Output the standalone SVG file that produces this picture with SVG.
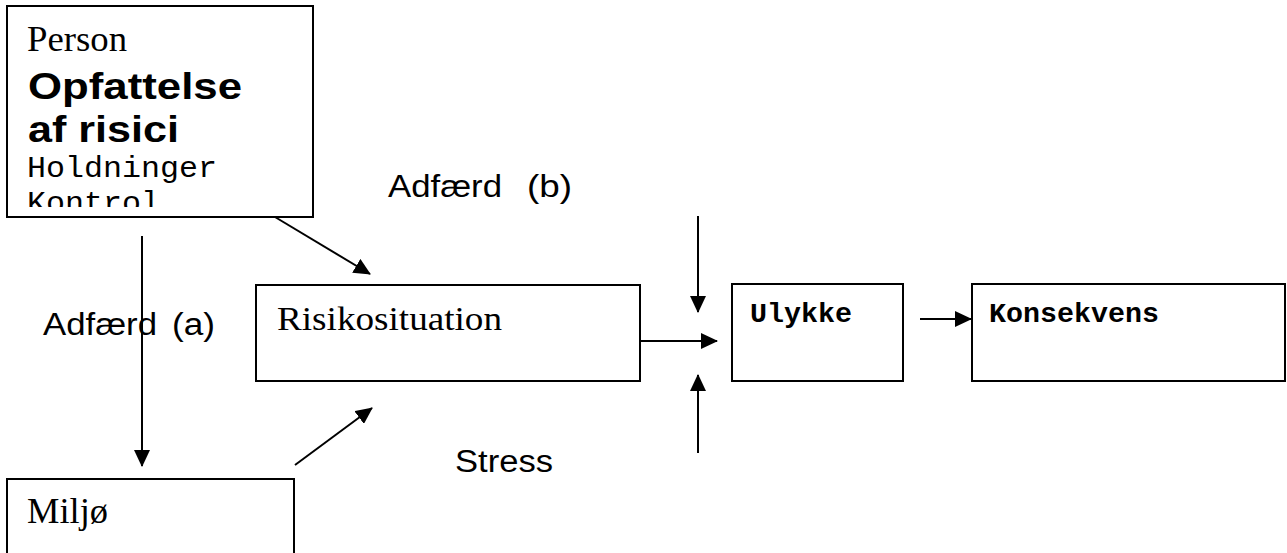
<svg xmlns="http://www.w3.org/2000/svg" width="1287" height="553" viewBox="0 0 1287 553">
<style>
.box{fill:#fff;stroke:#000;stroke-width:2}
.ln{stroke:#000;stroke-width:2;fill:none}
.serif{font-family:"Liberation Serif","Times New Roman",serif;fill:#000}
.sans{font-family:"Liberation Sans",Arial,sans-serif;fill:#000}
.mono{font-family:"Liberation Mono","Courier New",monospace;fill:#000}
</style>
<defs>
<marker id="ah2" viewBox="0 0 17 16" refX="16" refY="8" markerWidth="17" markerHeight="16" markerUnits="userSpaceOnUse" orient="auto">
<path d="M0,0 L17,8 L0,16 z" fill="#000"/>
</marker>
<clipPath id="pclip"><rect x="8" y="7" width="304" height="200"/></clipPath>
</defs>
<g id="connectors">
<line class="ln" x1="142" y1="236" x2="142" y2="466" marker-end="url(#ah2)"/>
<line class="ln" x1="275" y1="217" x2="370" y2="274" marker-end="url(#ah2)"/>
<line class="ln" x1="295" y1="465" x2="372" y2="408" marker-end="url(#ah2)"/>
<line class="ln" x1="641" y1="341" x2="717" y2="341" marker-end="url(#ah2)"/>
<line class="ln" x1="698" y1="216" x2="698" y2="312" marker-end="url(#ah2)"/>
<line class="ln" x1="698" y1="453" x2="698" y2="375" marker-end="url(#ah2)"/>
<line class="ln" x1="920" y1="319" x2="971" y2="319" marker-end="url(#ah2)"/>
</g>
<g id="person">
<rect class="box" x="7" y="6" width="306" height="211"/>
<g clip-path="url(#pclip)">
<text class="serif" x="27" y="51" font-size="35" textLength="100" lengthAdjust="spacingAndGlyphs">Person</text>
<text class="sans" x="28" y="99" font-size="37" font-weight="bold" textLength="214" lengthAdjust="spacingAndGlyphs">Opfattelse</text>
<text class="sans" x="28" y="142" font-size="37" font-weight="bold" textLength="151" lengthAdjust="spacingAndGlyphs">af risici</text>
<text class="mono" x="27" y="177" font-size="29" textLength="190" lengthAdjust="spacingAndGlyphs">Holdninger</text>
<text class="mono" x="27" y="212" font-size="29" textLength="133" lengthAdjust="spacingAndGlyphs">Kontrol</text>
</g>
</g>
<g id="label-b">
<text class="sans" x="388" y="197" font-size="31" textLength="114" lengthAdjust="spacingAndGlyphs">Adfærd</text>
<text class="sans" x="527" y="197" font-size="31" textLength="45" lengthAdjust="spacingAndGlyphs">(b)</text>
</g>
<g id="label-a">
<text class="sans" x="43" y="335" font-size="31" textLength="114" lengthAdjust="spacingAndGlyphs">Adfærd</text>
<text class="sans" x="172" y="335" font-size="31" textLength="43" lengthAdjust="spacingAndGlyphs">(a)</text>
</g>
<g id="label-stress"><text class="sans" x="455" y="472" font-size="31" textLength="98" lengthAdjust="spacingAndGlyphs">Stress</text></g>
<g id="risiko">
<rect class="box" x="256" y="285" width="384" height="96"/>
<text class="serif" x="277" y="330" font-size="34" textLength="225" lengthAdjust="spacingAndGlyphs">Risikosituation</text>
</g>
<g id="ulykke">
<rect class="box" x="732" y="284" width="171" height="97"/>
<text class="mono" x="750" y="322" font-size="27" font-weight="bold" textLength="102" lengthAdjust="spacingAndGlyphs">Ulykke</text>
</g>
<g id="konsekvens">
<rect class="box" x="972" y="284" width="313" height="97"/>
<text class="mono" x="989" y="322" font-size="27" font-weight="bold" textLength="170" lengthAdjust="spacingAndGlyphs">Konsekvens</text>
</g>
<g id="miljo">
<rect class="box" x="7" y="479" width="287" height="90"/>
<text class="serif" x="27" y="523" font-size="35" textLength="81" lengthAdjust="spacingAndGlyphs">Miljø</text>
</g>
</svg>
